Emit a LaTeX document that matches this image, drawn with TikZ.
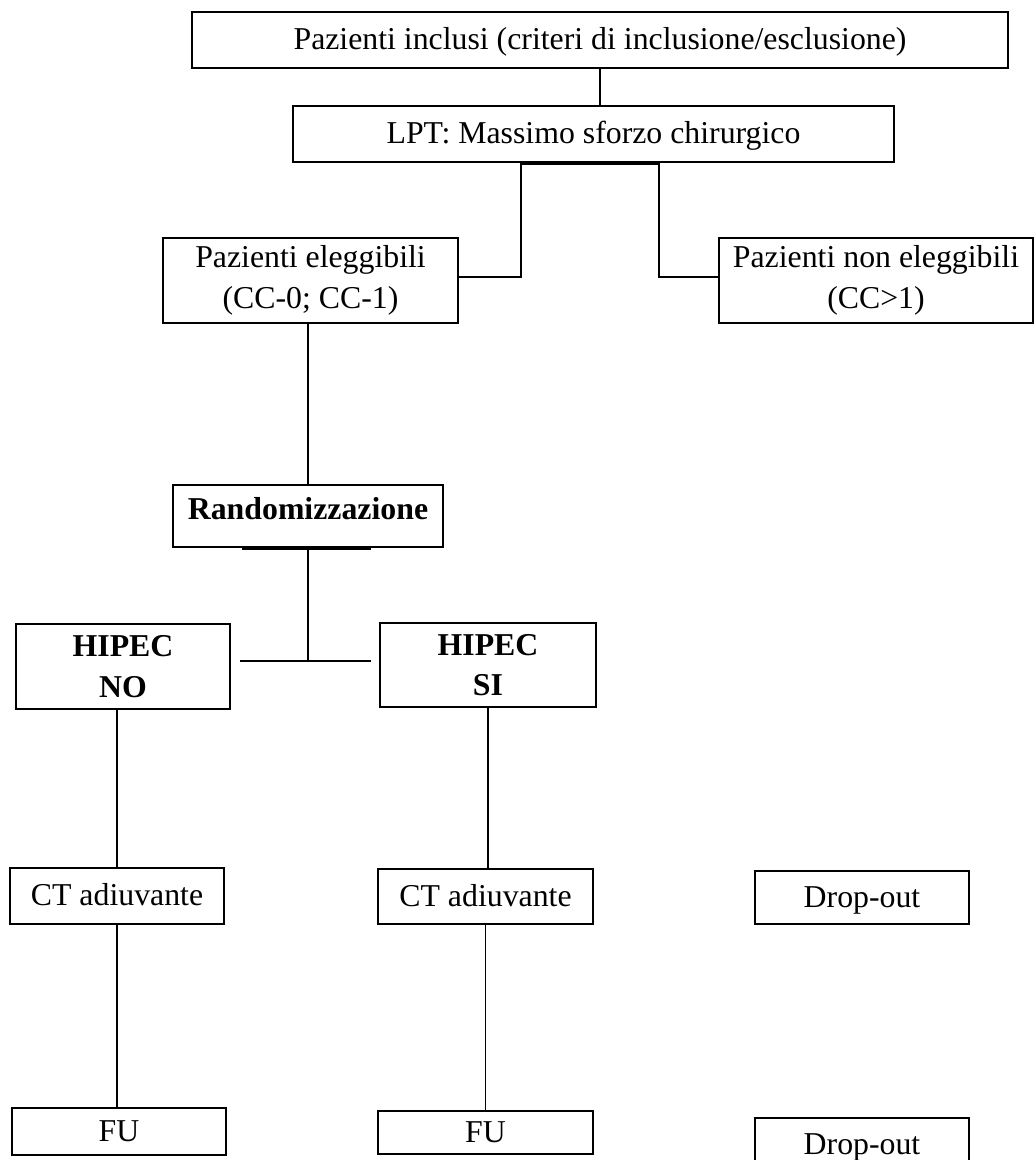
\documentclass[tikz,border=0pt]{standalone}
\usepackage{fontspec}
\setmainfont{Liberation Serif}
\begin{document}
\begin{tikzpicture}[x=0.5pt,y=-0.5pt,
  fnt/.style={font=\fontsize{15.9pt}{20.3pt}\selectfont},
  bfnt/.style={font=\fontsize{15.9pt}{20.3pt}\selectfont\bfseries},
  box/.style={draw, line width=1.1pt, inner sep=0pt, fnt, text height=11.1pt, text depth=1.6pt},
  mbox/.style={draw, line width=1.1pt, inner sep=0pt, fnt, align=center},
  conn/.style={line width=0.65pt},
  seam/.style={line width=1.5pt}]
\useasboundingbox (0,0) rectangle (1036,1160);
\fill[white] (0,0) rectangle (1036,1160);
\clip (0,0) rectangle (1036,1160);

% boxes
\node[box, minimum width=408pt, minimum height=28pt] (top) at (600,40) {Pazienti inclusi (criteri di inclusione/esclusione)};
\node[box, minimum width=300.5pt, minimum height=28pt] (lpt) at (593.5,134) {LPT: Massimo sforzo chirurgico};
\node[mbox, minimum width=147.5pt, minimum height=42.5pt] (elig) at (310.5,280.5) {Pazienti eleggibili\\(CC-0; CC-1)};
\node[mbox, minimum width=157pt, minimum height=42.5pt] (nonelig) at (876,280.5) {Pazienti non eleggibili\\(CC>1)};
\node[box, bfnt, text depth=7.5pt, minimum width=135pt, minimum height=31pt] (rand) at (308,516) {Randomizzazione};
\node[mbox, bfnt, minimum width=107pt, minimum height=42.5pt] (hno) at (123,666.5) {HIPEC\\NO};
\node[mbox, bfnt, minimum width=108pt, minimum height=42pt] (hsi) at (488,665) {HIPEC\\SI};
\node[box, minimum width=107pt, minimum height=28pt] (ct1) at (117,896) {CT adiuvante};
\node[box, minimum width=107.5pt, minimum height=27.5pt] (ct2) at (485.5,896.5) {CT adiuvante};
\node[box, minimum width=107pt, minimum height=26.5pt] (drop1) at (862,897.5) {Drop-out};
\node[box, minimum width=107pt, minimum height=23.5pt] (fu1) at (119,1131.5) {FU};
\node[box, minimum width=107.5pt, minimum height=21.5pt] (fu2) at (485.5,1132.5) {FU};
\node[box, minimum width=107pt, minimum height=26.5pt] (drop2) at (862,1144.5) {Drop-out};

% junction points
\coordinate (j1) at (521,0 |- lpt.south);
\coordinate (j2) at (659,0 |- lpt.south);
\coordinate (ru1) at (242,0 |- rand.south);
\coordinate (ru2) at (371,0 |- rand.south);
\coordinate (rj) at (rand.south |- 0,661);
\coordinate (hl) at (240,661);
\coordinate (hr) at (371,661);

% connectors
\draw[conn] (top.south) -- (top.south |- lpt.north);
\draw[seam] (j1) -- (j2);
\draw[conn] (j1) |- ([yshift=1.75pt]elig.east);
\draw[conn] (j2) |- ([yshift=1.75pt]nonelig.west);
\draw[conn] (rand.north |- elig.south) -- (rand.north);
\draw[seam] (ru1) -- (ru2);
\draw[conn] (rand.south) -- (rj);
\draw[conn] (hl) -- (hr);
\draw[conn] (ct1.north |- hno.south) -- (ct1.north);
\draw[conn] (hsi.south) -- (hsi.south |- ct2.north);
\draw[conn] (ct1.south) -- (ct1.south |- fu1.north);
\draw[conn] (ct2.south) -- (ct2.south |- fu2.north);
\end{tikzpicture}
\end{document}
